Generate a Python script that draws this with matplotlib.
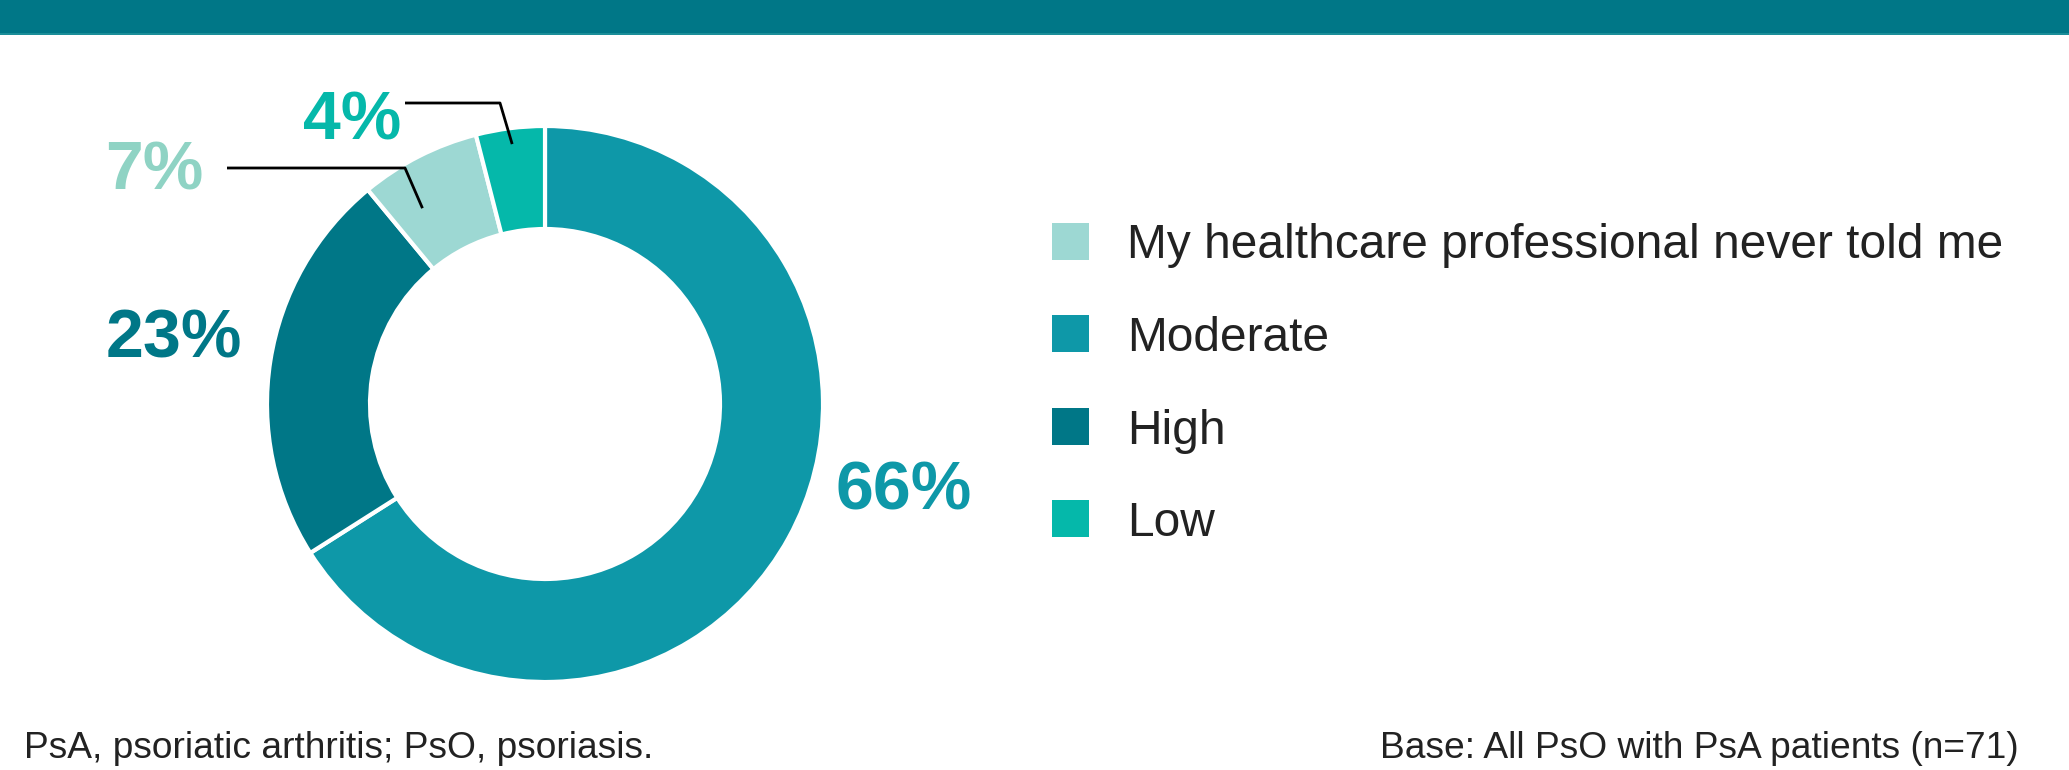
"donut chart: patient-reported severity (PsO with PsA)"
import numpy as np
import matplotlib
matplotlib.use("Agg")
from matplotlib import pyplot as plt

W, H = 2069, 770

# data, in clockwise order from 12 o'clock
categories = ["Moderate", "High", "My healthcare professional never told me", "Low"]
values = [66, 23, 7, 4]
colors = ["#0E98A8", "#007787", "#9DD8D3", "#05B8AA"]
label_colors = ["#0E98A8", "#007787", "#8FD3C4", "#05B8AA"]
legend_order = ["My healthcare professional never told me", "Moderate", "High", "Low"]

footnote = "PsA, psoriatic arthritis; PsO, psoriasis."
base_note = "Base: All PsO with PsA patients (n=71)"

plt.rcParams['font.family'] = ['Liberation Sans', 'DejaVu Sans']

fig = plt.figure(figsize=(W / 100, H / 100), dpi=100)
ax = fig.add_axes([0, 0, 1, 1])

CX, CY = 545, H - 404
R_OUT, R_IN = 278, 175

wedges, _ = ax.pie(values, colors=colors, startangle=90, counterclock=False,
                   center=(CX, CY), radius=R_OUT,
                   wedgeprops=dict(width=R_OUT - R_IN, edgecolor="white", linewidth=3))
ax.set_xlim(0, W)
ax.set_ylim(0, H)
ax.set_aspect("equal")
ax.axis("off")

# header band (title is cropped off in the source)
ax.axhspan(H - 33, H, color="#007787", lw=0)
ax.axhspan(H - 34.5, H - 33, color="#1A8E99", lw=0)

def wedge_point(w, frac, r):
    # frac 0 -> theta1, 1 -> theta2
    a = np.deg2rad(w.theta1 + frac * (w.theta2 - w.theta1))
    return CX + r * np.cos(a), CY + r * np.sin(a)

# percentage labels (label position in pixels from top)
label_pos = {"Moderate": (904, 492), "High": (174, 339),
             "My healthcare professional never told me": (154, 172), "Low": (352, 122)}
for cat, v, c in zip(categories, values, label_colors):
    x, y = label_pos[cat]
    ax.text(x, H - y, f"{v}%", color=c, fontsize=49, fontweight="bold",
            ha="center", va="center")

# leader lines for the small slices: x0, x1, y, angle fraction, radius
leaders = {"My healthcare professional never told me": (227, 405, 168, 0.7, 231),
           "Low": (405, 500, 103, 0.5, 262)}
for cat, (x0, x1, y, f, r) in leaders.items():
    w = wedges[categories.index(cat)]
    ex, ey = wedge_point(w, f, r)
    ax.plot([x0, x1, ex], [H - y, H - y, ey], color="black", lw=2, solid_capstyle="butt")

# legend
for i, cat in enumerate(legend_order):
    yc = H - (241 + i * 92.5)
    c = colors[categories.index(cat)]
    ax.add_patch(plt.Rectangle((1052, yc - 18.5), 37, 37, color=c, lw=0))
    ax.text(1127, yc - 5, cat, fontsize=34.5, color="#222222", va="center", ha="left")

ax.text(24, H - 749, footnote, fontsize=26.7, color="#222222", va="center", ha="left")
ax.text(2019, H - 749, base_note, fontsize=26.7, color="#222222", va="center", ha="right")

fig.savefig("out.png", dpi=100)
